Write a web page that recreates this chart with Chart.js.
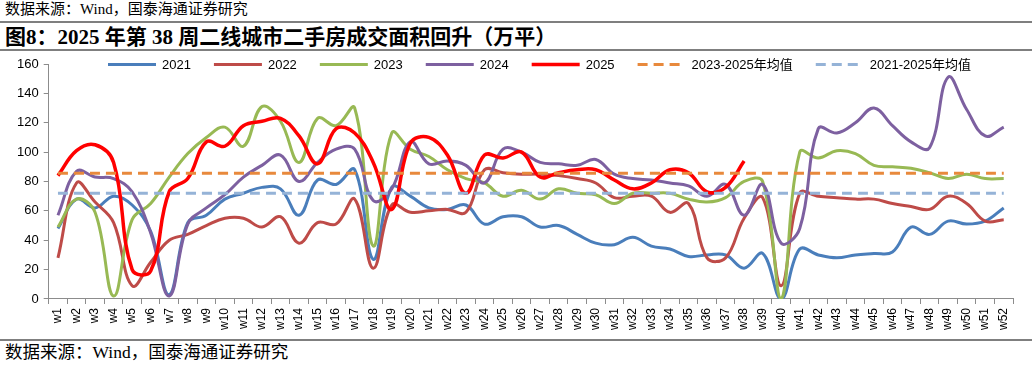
<!DOCTYPE html>
<html>
<head>
<meta charset="utf-8">
<script src="https://cdn.jsdelivr.net/npm/chart.js@4.4.1/dist/chart.umd.min.js"></script>
<style>
  html, body { margin: 0; padding: 0; background: #fff; }
  body { width: 1032px; height: 366px; position: relative; overflow: hidden; }
  .src { position: absolute; left: 5px; font-family: "Liberation Serif", "Noto Sans CJK SC", serif; color: #000; white-space: nowrap; }
  #srcTop { top: 0px; font-size: 15px; line-height: 18px; }
  #srcBot { top: 342px; font-size: 17.5px; line-height: 20px; }
  .rule { position: absolute; left: 0; width: 1032px; background: #7f7f7f; }
  #title { position: absolute; left: 5px; top: 25px; font-family: "Liberation Serif", "Noto Sans CJK SC", serif; font-weight: bold; font-size: 21px; line-height: 24px; color: #000; white-space: nowrap; }
  #chartBox { position: absolute; left: 0; top: 35px; width: 1032px; height: 305px; }
</style>
</head>
<body>
<div id="srcTop" class="src">数据来源：Wind，国泰海通证券研究</div>
<div class="rule" style="top:21px;height:2px;"></div>
<div id="title">图8：2025 年第 38 周二线城市二手房成交面积回升（万平）</div>
<div class="rule" style="top:49px;height:2px;"></div>
<div id="chartBox"><canvas id="c" width="1032" height="305"></canvas></div>
<div class="rule" style="top:339px;height:2px;"></div>
<div id="srcBot" class="src">数据来源：Wind，国泰海通证券研究</div>
<script>
const weeks = ["w1","w2","w3","w4","w5","w6","w7","w8","w9","w10","w11","w12","w13","w14","w15","w16","w17","w18","w19","w20","w21","w22","w23","w24","w25","w26","w27","w28","w29","w30","w31","w32","w33","w34","w35","w36","w37","w38","w39","w40","w41","w42","w43","w44","w45","w46","w47","w48","w49","w50","w51","w52"];

const s2021 = [48,68,62,70,64,46,3,52,57,68,72,76,75,57,81,78,88,27,76,70,62,61,64,51,56,56,49,50,44,38,37,42,36,34,29,30,30,21,31,0,34,30,28,30,31,32,49,44,53,51,53,62];
const s2022 = [28,79,66,52,9,25,40,44,50,55,55,49,56,38,52,51,68,21,64,59,60,61,59,88,86,85,85,84,82,79,69,70,70,59,65,28,28,55,69,9,72,70,69,68,68,65,63,61,70,65,53,54];
const s2023 = [49,68,59,2,54,65,83,99,110,117,104,131,121,93,123,118,130,36,113,102,97,88,82,79,70,74,68,75,72,71,65,72,72,72,68,66,69,80,80,0,100,96,101,99,91,90,89,86,82,85,82,82];
const s2024 = [57,87,83,82,73,45,2,51,62,71,83,91,98,80,93,102,102,67,75,107,92,94,91,79,102,100,93,92,91,95,85,82,81,79,77,70,78,57,78,38,48,116,113,120,130,118,107,103,151,129,111,117];
const s2025 = [84,101,105,93,20,19,73,82,107,104,118,121,123,111,92,116,113,93,61,106,110,98,72,98,96,100,83,86,88,88,81,75,79,88,86,73,76,94,null,null,null,null,null,null,null,null,null,null,null,null,null,null];
const avg2023to2025 = 85.6;
const avg2021to2025 = 72;
const yTicks = { min: 0, max: 160, step: 20 };

const seriesNames = ["2021","2022","2023","2024","2025","2023-2025年均值","2021-2025年均值"];

function lineDs(label, data, color, width, dash) {
  return {
    label: label, data: data, borderColor: color, backgroundColor: color,
    borderWidth: width, pointRadius: 0, pointHoverRadius: 0,
    tension: 0.4, fill: false, borderDash: dash || [], borderJoinStyle: 'round',
    spanGaps: false
  };
}

// Excel drawing order: later series on top -> dataset list reversed (index 0 is drawn last)
const datasets = [
  lineDs(seriesNames[6], weeks.map(() => avg2021to2025), '#95B3D7', 3, [10, 6]),
  lineDs(seriesNames[5], weeks.map(() => avg2023to2025), '#E8893C', 3, [10, 6]),
  lineDs(seriesNames[4], s2025, '#FF0000', 3.5),
  lineDs(seriesNames[3], s2024, '#7D60A0', 3),
  lineDs(seriesNames[2], s2023, '#98B954', 3),
  lineDs(seriesNames[1], s2022, '#BE4B48', 3),
  lineDs(seriesNames[0], s2021, '#4A7EBB', 3)
];

// Legend drawn on the chart canvas from the datasets' own styles
const LEG = { x0: 108, y: 29.5, sample: 48, textGap: 6, itemGap: 23, font: '13px "Liberation Sans", "Noto Sans CJK SC", Arial, sans-serif' };
const lineLegend = {
  id: 'lineLegend',
  afterDraw(chart) {
    const ctx = chart.ctx;
    ctx.save();
    ctx.font = LEG.font;
    ctx.textBaseline = 'middle';
    ctx.textAlign = 'left';
    let x = LEG.x0;
    const dsList = chart.data.datasets.slice().reverse();
    dsList.forEach(ds => {
      ctx.beginPath();
      ctx.strokeStyle = ds.borderColor;
      ctx.lineWidth = ds.borderWidth;
      ctx.lineCap = 'butt';
      ctx.setLineDash(ds.borderDash || []);
      ctx.moveTo(x, LEG.y);
      ctx.lineTo(x + LEG.sample, LEG.y);
      ctx.stroke();
      ctx.setLineDash([]);
      ctx.fillStyle = '#000';
      const tx = x + LEG.sample + LEG.textGap;
      ctx.fillText(ds.label, tx, LEG.y + 0.5);
      x = tx + ctx.measureText(ds.label).width + LEG.itemGap;
    });
    ctx.restore();
  }
};

const axisColor = '#8c8c8c';
new Chart(document.getElementById('c'), {
  type: 'line',
  data: { labels: weeks, datasets: datasets },
  plugins: [lineLegend],
  options: {
    responsive: false,
    animation: false,
    devicePixelRatio: 1,
    layout: { padding: { left: 12, right: 19, top: 29, bottom: 6 } },
    plugins: {
      tooltip: { enabled: false },
      legend: { display: false }
    },
    scales: {
      x: {
        offset: true,
        grid: { display: true, drawOnChartArea: false, drawTicks: true, tickLength: 5, color: axisColor, offset: true },
        border: { display: true, color: axisColor, width: 1 },
        ticks: {
          autoSkip: false, maxRotation: 90, minRotation: 90, padding: 4, color: '#000',
          font: { family: '"Liberation Sans", Arial, sans-serif', size: 12 }
        }
      },
      y: {
        min: yTicks.min, max: yTicks.max,
        grid: { display: true, drawOnChartArea: false, drawTicks: true, tickLength: 5, color: axisColor },
        border: { display: true, color: axisColor, width: 1 },
        ticks: {
          stepSize: yTicks.step, padding: 5, color: '#000',
          font: { family: '"Liberation Sans", Arial, sans-serif', size: 13 }
        }
      }
    }
  }
});
</script>
</body>
</html>
